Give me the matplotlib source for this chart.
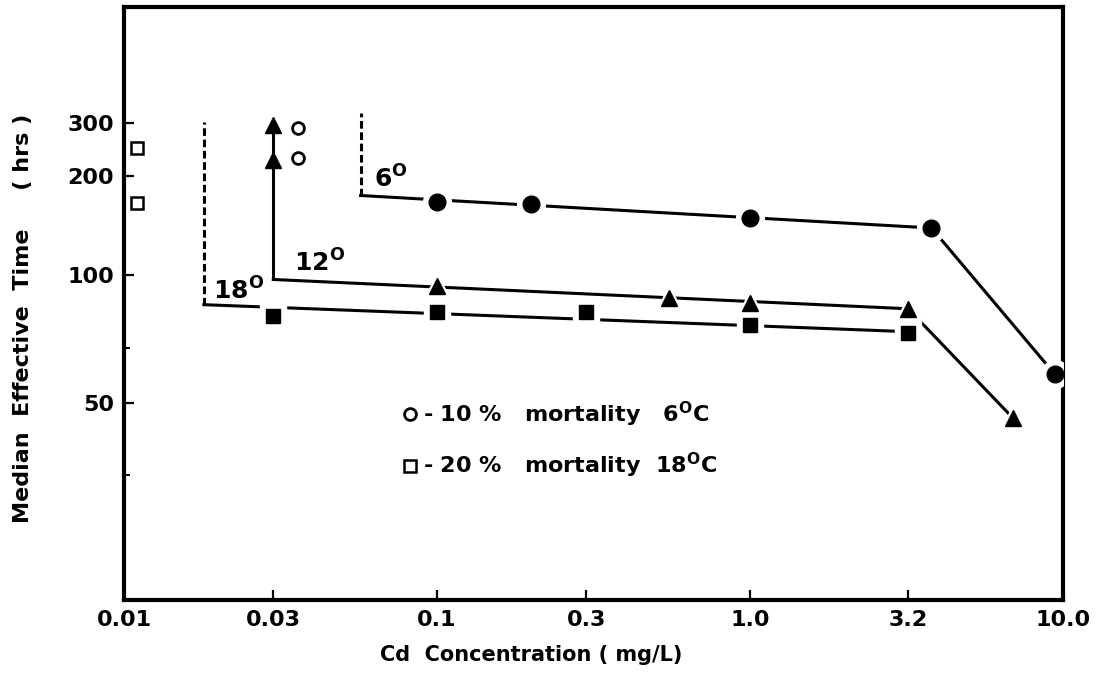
import numpy as np
import matplotlib.pyplot as plt

# Median effective time (hrs) vs Cd concentration (mg/L), one series per temperature
conc_6c = [0.1, 0.2, 1.0, 3.8, 9.4]
time_6c = [165, 163, 147, 137, 57]
conc_12c = [0.1, 0.55, 1.0, 3.2, 6.9]
time_12c = [93, 86.5, 84, 81, 47]
conc_18c = [0.03, 0.1, 0.3, 1.0, 3.2]
time_18c = [77.6, 79.4, 79.6, 73.7, 70.6]

# fitted lines, starting from the threshold concentration
fit_conc_6c = [0.057, 3.8, 9.4]
fit_time_6c = [173, 137, 57]
fit_conc_12c = [0.03, 3.2, 6.9]
fit_time_12c = [97, 81, 47]
fit_conc_18c = [0.018, 3.2]
fit_time_18c = [83, 71]

# top of the dashed threshold lines
thresh_top_6c = 325
thresh_top_18c = 304

# 12C at 0.03 mg/L ran past the end of the test
arrow_conc_12c = [0.03, 0.03]
arrow_time_12c = [295, 226]

# partial mortality points
mort10_conc = [0.036, 0.036]
mort10_time = [290, 230]
mort20_conc = [0.011, 0.011]
mort20_time = [247, 164]

x_ticks = [0.01, 0.03, 0.1, 0.3, 1.0, 3.2, 10.0]
x_tick_labels = ['0.01', '0.03', '0.1', '0.3', '1.0', '3.2', '10.0']
y_ticks = [50, 100, 200, 300]
y_minor = [38.5, 65]

# the time axis is a log scale shifted by a constant
Y_SHIFT = 25


def y_fwd(y):
    return np.log10(np.maximum(np.asarray(y, dtype=float) - Y_SHIFT, 1e-3))


def y_inv(t):
    return 10 ** np.asarray(t, dtype=float) + Y_SHIFT


def plot_points(ax, x, y, marker, size):
    # white patch under each marker leaves a small gap in the line
    ax.plot(x, y, ls='none', marker=marker, ms=size + 8, color='white', zorder=3)
    ax.plot(x, y, ls='none', marker=marker, ms=size, color='black', zorder=4)


plt.rcParams['font.family'] = ['DejaVu Sans']
plt.rcParams['font.weight'] = 'bold'

fig = plt.figure(figsize=(10.96, 6.87), dpi=100)
ax = fig.add_axes([0.1131, 0.1266, 0.8568, 0.8632])
ax.set_xscale('log')
ax.set_yscale('function', functions=(y_fwd, y_inv))
ax.set_xlim(0.01, 10)
ax.set_ylim(29.6, 771)

lw = 2.2
# fitted lines
ax.plot(fit_conc_6c, fit_time_6c, color='black', lw=lw, zorder=2)
ax.plot(fit_conc_12c, fit_time_12c, color='black', lw=lw, zorder=2)
ax.plot(fit_conc_18c, fit_time_18c, color='black', lw=lw, zorder=2)

# thresholds
ax.plot([fit_conc_6c[0]] * 2, [fit_time_6c[0], thresh_top_6c], color='black', lw=lw,
        ls=(0, (2.5, 1.2)), zorder=2)
ax.plot([fit_conc_18c[0]] * 2, [fit_time_18c[0], thresh_top_18c], color='black', lw=lw,
        ls=(0, (2.5, 1.2)), zorder=2)
ax.plot([fit_conc_12c[0]] * 2, [fit_time_12c[0], arrow_time_12c[0]], color='black', lw=lw,
        zorder=2)
ax.plot(arrow_conc_12c, arrow_time_12c, ls='none', marker='^', ms=11, color='black', zorder=4)

# data points
plot_points(ax, conc_6c, time_6c, 'o', 12)
plot_points(ax, conc_12c, time_12c, '^', 11)
plot_points(ax, conc_18c, time_18c, 's', 10.5)

ax.plot(mort10_conc, mort10_time, ls='none', marker='o', ms=8.5, mfc='white', mec='black',
        mew=2, label=r'- 10 %   mortality   6$^{\mathbf{O}}$C')
ax.plot(mort20_conc, mort20_time, ls='none', marker='s', ms=9, mfc='white', mec='black',
        mew=1.8, label=r'- 20 %   mortality  18$^{\mathbf{O}}$C', clip_on=False)

# temperature labels
ax.text(0.063, 183, r'6$^{\mathbf{O}}$', fontsize=18, fontweight='bold')
ax.text(0.035, 102, r'12$^{\mathbf{O}}$', fontsize=18, fontweight='bold')
ax.text(0.0192, 85.6, r'18$^{\mathbf{O}}$', fontsize=18, fontweight='bold')

ax.legend(loc='upper left', bbox_to_anchor=(0.297, 0.338), frameon=False, borderpad=0,
          borderaxespad=0, handlelength=0.6, handletextpad=0.3, labelspacing=1.0,
          numpoints=1, prop={'size': 16, 'weight': 'bold'})

ax.set_xticks(x_ticks)
ax.set_xticklabels(x_tick_labels)
ax.xaxis.set_minor_locator(plt.NullLocator())
ax.set_yticks(y_ticks)
ax.set_yticklabels([str(v) for v in y_ticks])
ax.set_yticks(y_minor, minor=True)
ax.yaxis.set_minor_formatter(plt.NullFormatter())

ax.tick_params(which='major', direction='in', length=7, width=1.6, labelsize=16, pad=7)
ax.tick_params(which='minor', direction='in', length=4, width=1.4)
for spine in ax.spines.values():
    spine.set_linewidth(3)

ax.set_xlabel('Cd  Concentration ( mg/L)', fontsize=15, fontweight='bold')
ax.set_ylabel('Median  Effective  Time     ( hrs )', fontsize=16, fontweight='bold')
ax.xaxis.set_label_coords(0.4334, -0.076)
ax.yaxis.set_label_coords(-0.097, 0.4755)

plt.savefig('out.png', dpi=100)
